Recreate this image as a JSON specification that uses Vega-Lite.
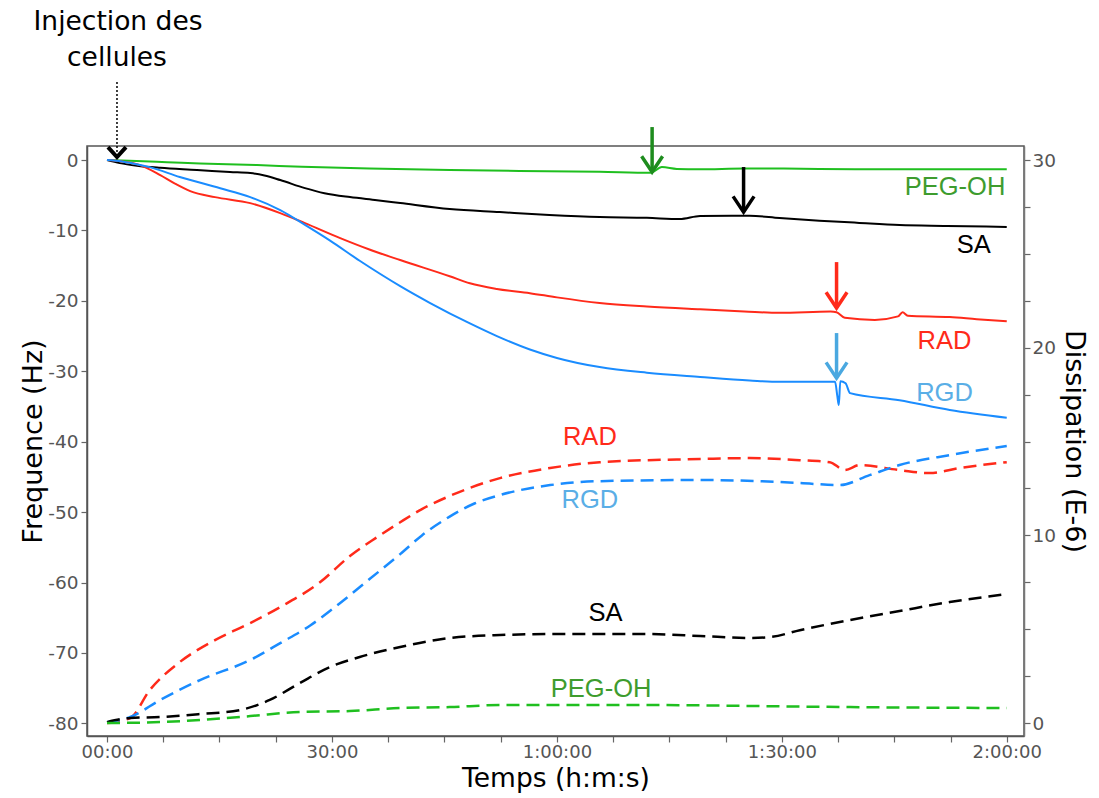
{
  "$schema": "https://vega.github.io/schema/vega-lite/v6.json",
  "width": 937,
  "height": 590,
  "autosize": {"type": "none"},
  "padding": {"left": 87, "top": 146, "right": 75, "bottom": 62},
  "background": "white",
  "config": {
    "view": {"stroke": "#555", "strokeWidth": 1.5},
    "axis": {
      "labelFont": "DejaVu Sans",
      "labelFontSize": 18.5,
      "labelColor": "#555",
      "tickColor": "#666",
      "tickSize": 6,
      "tickWidth": 1.2,
      "grid": false,
      "titleFont": "DejaVu Sans",
      "titleFontSize": 27,
      "titleFontWeight": "normal",
      "titleColor": "#000",
      "domainColor": "#555",
      "domainWidth": 1.5
    }
  },
  "datasets": {
    "freq": [
      {"s": "PEG-OH", "t": 0, "f": 0}, {"s": "PEG-OH", "t": 3, "f": -0.1}, {"s": "PEG-OH", "t": 8, "f": -0.3}, {"s": "PEG-OH", "t": 12.4, "f": -0.47}, {"s": "PEG-OH", "t": 20, "f": -0.7}, {"s": "PEG-OH", "t": 26, "f": -0.95}, {"s": "PEG-OH", "t": 35, "f": -1.2}, {"s": "PEG-OH", "t": 45.7, "f": -1.42}, {"s": "PEG-OH", "t": 55, "f": -1.55}, {"s": "PEG-OH", "t": 65.7, "f": -1.66}, {"s": "PEG-OH", "t": 72.5, "f": -1.8}, {"s": "PEG-OH", "t": 74, "f": -1.0}, {"s": "PEG-OH", "t": 76, "f": -1.25}, {"s": "PEG-OH", "t": 79, "f": -1.3}, {"s": "PEG-OH", "t": 85, "f": -1.2}, {"s": "PEG-OH", "t": 90, "f": -1.2}, {"s": "PEG-OH", "t": 100, "f": -1.3}, {"s": "PEG-OH", "t": 110, "f": -1.3}, {"s": "PEG-OH", "t": 120, "f": -1.3},
      {"s": "SA", "t": 0, "f": 0}, {"s": "SA", "t": 1.7, "f": -0.43}, {"s": "SA", "t": 4, "f": -0.8}, {"s": "SA", "t": 7.1, "f": -1.1}, {"s": "SA", "t": 12, "f": -1.4}, {"s": "SA", "t": 16.4, "f": -1.7}, {"s": "SA", "t": 19.1, "f": -1.85}, {"s": "SA", "t": 21, "f": -2.2}, {"s": "SA", "t": 23.1, "f": -2.84}, {"s": "SA", "t": 26.4, "f": -3.98}, {"s": "SA", "t": 29, "f": -4.7}, {"s": "SA", "t": 32.4, "f": -5.26}, {"s": "SA", "t": 36, "f": -5.7}, {"s": "SA", "t": 39.1, "f": -6.11}, {"s": "SA", "t": 45.7, "f": -6.96}, {"s": "SA", "t": 52.4, "f": -7.39}, {"s": "SA", "t": 59, "f": -7.8}, {"s": "SA", "t": 65.7, "f": -8.1}, {"s": "SA", "t": 72, "f": -8.2}, {"s": "SA", "t": 76.4, "f": -8.38}, {"s": "SA", "t": 79.1, "f": -7.95}, {"s": "SA", "t": 85.7, "f": -7.9}, {"s": "SA", "t": 89.7, "f": -8.24}, {"s": "SA", "t": 95, "f": -8.6}, {"s": "SA", "t": 100, "f": -8.9}, {"s": "SA", "t": 105.7, "f": -9.23}, {"s": "SA", "t": 112, "f": -9.35}, {"s": "SA", "t": 120, "f": -9.5},
      {"s": "RAD", "t": 0, "f": 0}, {"s": "RAD", "t": 2, "f": -0.2}, {"s": "RAD", "t": 4.4, "f": -0.71}, {"s": "RAD", "t": 7.1, "f": -2.13}, {"s": "RAD", "t": 9, "f": -3.3}, {"s": "RAD", "t": 11.1, "f": -4.4}, {"s": "RAD", "t": 14.4, "f": -5.26}, {"s": "RAD", "t": 19.1, "f": -6.11}, {"s": "RAD", "t": 23.1, "f": -7.53}, {"s": "RAD", "t": 26.4, "f": -8.95}, {"s": "RAD", "t": 31.1, "f": -11.08}, {"s": "RAD", "t": 35, "f": -12.7}, {"s": "RAD", "t": 39.1, "f": -14.2}, {"s": "RAD", "t": 45.7, "f": -16.5}, {"s": "RAD", "t": 48.4, "f": -17.5}, {"s": "RAD", "t": 52, "f": -18.3}, {"s": "RAD", "t": 56.4, "f": -18.9}, {"s": "RAD", "t": 60, "f": -19.5}, {"s": "RAD", "t": 65.7, "f": -20.3}, {"s": "RAD", "t": 72, "f": -20.8}, {"s": "RAD", "t": 79.1, "f": -21.2}, {"s": "RAD", "t": 85, "f": -21.5}, {"s": "RAD", "t": 89.7, "f": -21.7}, {"s": "RAD", "t": 96.5, "f": -21.5}, {"s": "RAD", "t": 97.3, "f": -21.6}, {"s": "RAD", "t": 98.4, "f": -22.4}, {"s": "RAD", "t": 102.4, "f": -22.7}, {"s": "RAD", "t": 105.5, "f": -22.2}, {"s": "RAD", "t": 106.1, "f": -21.6}, {"s": "RAD", "t": 106.8, "f": -22.1}, {"s": "RAD", "t": 112.4, "f": -22.3}, {"s": "RAD", "t": 116, "f": -22.6}, {"s": "RAD", "t": 120, "f": -22.9},
      {"s": "RGD", "t": 0, "f": 0}, {"s": "RGD", "t": 2, "f": -0.2}, {"s": "RGD", "t": 4, "f": -0.6}, {"s": "RGD", "t": 5.7, "f": -1.0}, {"s": "RGD", "t": 9.7, "f": -2.4}, {"s": "RGD", "t": 15.1, "f": -4.0}, {"s": "RGD", "t": 19.1, "f": -5.26}, {"s": "RGD", "t": 23.1, "f": -7.1}, {"s": "RGD", "t": 26.4, "f": -9.2}, {"s": "RGD", "t": 29.7, "f": -11.4}, {"s": "RGD", "t": 33.7, "f": -14.3}, {"s": "RGD", "t": 39.1, "f": -17.9}, {"s": "RGD", "t": 43.1, "f": -20.3}, {"s": "RGD", "t": 48.4, "f": -23.2}, {"s": "RGD", "t": 52, "f": -25.0}, {"s": "RGD", "t": 56.4, "f": -26.9}, {"s": "RGD", "t": 60, "f": -28.1}, {"s": "RGD", "t": 65.7, "f": -29.4}, {"s": "RGD", "t": 72, "f": -30.2}, {"s": "RGD", "t": 79.1, "f": -30.8}, {"s": "RGD", "t": 85.7, "f": -31.3}, {"s": "RGD", "t": 89.7, "f": -31.5}, {"s": "RGD", "t": 97.1, "f": -31.5}, {"s": "RGD", "t": 97.4, "f": -33.5}, {"s": "RGD", "t": 97.6, "f": -34.8}, {"s": "RGD", "t": 97.8, "f": -31.4}, {"s": "RGD", "t": 98.5, "f": -31.7}, {"s": "RGD", "t": 99.1, "f": -33.1}, {"s": "RGD", "t": 105.7, "f": -34.1}, {"s": "RGD", "t": 112.4, "f": -35.5}, {"s": "RGD", "t": 120, "f": -36.6}
    ],
    "diss": [
      {"s": "RAD", "t": 0, "d": 0}, {"s": "RAD", "t": 3.1, "d": 0.27}, {"s": "RAD", "t": 5.7, "d": 1.76}, {"s": "RAD", "t": 9.7, "d": 3.25}, {"s": "RAD", "t": 14.4, "d": 4.42}, {"s": "RAD", "t": 19.1, "d": 5.33}, {"s": "RAD", "t": 23.1, "d": 6.18}, {"s": "RAD", "t": 28.4, "d": 7.5}, {"s": "RAD", "t": 32.4, "d": 8.9}, {"s": "RAD", "t": 36, "d": 9.9}, {"s": "RAD", "t": 39.1, "d": 10.7}, {"s": "RAD", "t": 42, "d": 11.4}, {"s": "RAD", "t": 45.7, "d": 12.1}, {"s": "RAD", "t": 52.4, "d": 13.05}, {"s": "RAD", "t": 59.1, "d": 13.59}, {"s": "RAD", "t": 65.7, "d": 13.9}, {"s": "RAD", "t": 79.1, "d": 14.07}, {"s": "RAD", "t": 85.7, "d": 14.12}, {"s": "RAD", "t": 92.4, "d": 14.01}, {"s": "RAD", "t": 96.4, "d": 13.9}, {"s": "RAD", "t": 98.4, "d": 13.48}, {"s": "RAD", "t": 100.4, "d": 13.75}, {"s": "RAD", "t": 105.7, "d": 13.48}, {"s": "RAD", "t": 109.7, "d": 13.32}, {"s": "RAD", "t": 113.7, "d": 13.59}, {"s": "RAD", "t": 120, "d": 13.9},
      {"s": "RGD", "t": 0, "d": 0.05}, {"s": "RGD", "t": 3.1, "d": 0.32}, {"s": "RGD", "t": 7.1, "d": 1.23}, {"s": "RGD", "t": 12.4, "d": 2.29}, {"s": "RGD", "t": 19.1, "d": 3.36}, {"s": "RGD", "t": 23.1, "d": 4.26}, {"s": "RGD", "t": 27.1, "d": 5.2}, {"s": "RGD", "t": 31.1, "d": 6.4}, {"s": "RGD", "t": 35.1, "d": 7.7}, {"s": "RGD", "t": 39.1, "d": 9.0}, {"s": "RGD", "t": 42, "d": 10.0}, {"s": "RGD", "t": 45.7, "d": 11.0}, {"s": "RGD", "t": 49, "d": 11.7}, {"s": "RGD", "t": 52.4, "d": 12.15}, {"s": "RGD", "t": 59.1, "d": 12.68}, {"s": "RGD", "t": 65.7, "d": 12.89}, {"s": "RGD", "t": 79.1, "d": 12.95}, {"s": "RGD", "t": 87.1, "d": 12.89}, {"s": "RGD", "t": 92.4, "d": 12.79}, {"s": "RGD", "t": 97.7, "d": 12.68}, {"s": "RGD", "t": 101.7, "d": 13.21}, {"s": "RGD", "t": 105.7, "d": 13.75}, {"s": "RGD", "t": 112.4, "d": 14.28}, {"s": "RGD", "t": 120, "d": 14.76},
      {"s": "SA", "t": 0, "d": 0.05}, {"s": "SA", "t": 3.1, "d": 0.27}, {"s": "SA", "t": 7.1, "d": 0.32}, {"s": "SA", "t": 12.4, "d": 0.48}, {"s": "SA", "t": 17.7, "d": 0.69}, {"s": "SA", "t": 21.7, "d": 1.23}, {"s": "SA", "t": 25.7, "d": 2.13}, {"s": "SA", "t": 29.7, "d": 2.98}, {"s": "SA", "t": 33.7, "d": 3.52}, {"s": "SA", "t": 39.1, "d": 4.05}, {"s": "SA", "t": 45.7, "d": 4.53}, {"s": "SA", "t": 52.4, "d": 4.69}, {"s": "SA", "t": 59.1, "d": 4.74}, {"s": "SA", "t": 72.4, "d": 4.74}, {"s": "SA", "t": 79.1, "d": 4.64}, {"s": "SA", "t": 85.7, "d": 4.53}, {"s": "SA", "t": 88.4, "d": 4.58}, {"s": "SA", "t": 92.4, "d": 4.95}, {"s": "SA", "t": 99.1, "d": 5.49}, {"s": "SA", "t": 105.7, "d": 5.97}, {"s": "SA", "t": 112.4, "d": 6.45}, {"s": "SA", "t": 120, "d": 6.87},
      {"s": "PEG-OH", "t": 0, "d": 0}, {"s": "PEG-OH", "t": 7.1, "d": 0.05}, {"s": "PEG-OH", "t": 12.4, "d": 0.16}, {"s": "PEG-OH", "t": 19.1, "d": 0.37}, {"s": "PEG-OH", "t": 25.7, "d": 0.59}, {"s": "PEG-OH", "t": 32.4, "d": 0.64}, {"s": "PEG-OH", "t": 39.1, "d": 0.8}, {"s": "PEG-OH", "t": 45.7, "d": 0.85}, {"s": "PEG-OH", "t": 52.4, "d": 0.96}, {"s": "PEG-OH", "t": 72.4, "d": 0.96}, {"s": "PEG-OH", "t": 85.7, "d": 0.91}, {"s": "PEG-OH", "t": 99.1, "d": 0.85}, {"s": "PEG-OH", "t": 120, "d": 0.8}
    ],
    "labels": [
      {"s": "PEG-OH", "t": 113.1, "f": -3.84},
      {"s": "SA", "t": 115.6, "f": -12.07},
      {"s": "RAD", "t": 111.7, "f": -25.7},
      {"s": "RGD", "t": 111.7, "f": -33.1},
      {"s": "RAD", "t": 64.4, "f": -39.35},
      {"s": "RGD", "t": 64.4, "f": -48.3},
      {"s": "SA", "t": 66.5, "f": -64.35},
      {"s": "PEG-OH", "t": 65.9, "f": -75.1}
    ],
    "arrows": [
      {"s": "PEG-OH", "t": 72.7, "f1": 4.69, "f2": -1.7},
      {"s": "SA", "t": 84.9, "f1": -0.99, "f2": -7.39},
      {"s": "RAD", "t": 97.3, "f1": -14.49, "f2": -21.02},
      {"s": "RGD", "t": 97.3, "f1": -24.57, "f2": -30.97}
    ],
    "inj": [
      {"text": "Injection des", "t": 1.47, "f1": 19.6, "f2": 11.08, "tip": 0.43},
      {"text": "cellules", "t": 1.33, "f1": 14.5, "f2": 11.08, "tip": 0.43}
    ]
  },
  "layer": [
    {
      "layer": [
        {
          "data": {"name": "freq"},
          "mark": {"type": "line", "strokeWidth": 2, "interpolate": "monotone"},
          "encoding": {
            "x": {"field": "t", "type": "quantitative", "scale": {"domain": [-2.67, 122.3], "nice": false, "zero": false},
              "axis": {"title": "Temps (h:m:s)", "values": [0, 7.5, 15, 22.5, 30, 37.5, 45, 52.5, 60, 67.5, 75, 82.5, 90, 97.5, 105, 112.5, 120],
                "labelExpr": "datum.value==0?'00:00':datum.value==30?'30:00':datum.value==60?'1:00:00':datum.value==90?'1:30:00':datum.value==120?'2:00:00':''",
                "labelFontSize": 18, "labelPadding": 1, "titlePadding": 4, "titleFontSize": 26.5, "labelFlush": false, "labelOverlap": false}},
            "y": {"field": "f", "type": "quantitative", "scale": {"domain": [-81.8, 2], "nice": false, "zero": false},
              "axis": {"title": "Frequence (Hz)", "orient": "left", "values": [-80, -77.5, -75, -72.5, -70, -67.5, -65, -62.5, -60, -57.5, -55, -52.5, -50, -47.5, -45, -42.5, -40, -37.5, -35, -32.5, -30, -27.5, -25, -22.5, -20, -17.5, -15, -12.5, -10, -7.5, -5, -2.5, 0],
                "labelExpr": "datum.value % 10 == 0 ? '' + datum.value : ''", "labelPadding": 3, "titlePadding": 0, "labelOverlap": false}},
            "color": {"field": "s", "type": "nominal", "legend": null,
              "scale": {"domain": ["PEG-OH", "SA", "RAD", "RGD"], "range": ["#1fbf1f", "#000000", "#ff2a1a", "#1a8cff"]}},
            "detail": {"field": "s"}
          }
        },
        {
          "data": {"name": "arrows"},
          "mark": {"type": "rule", "strokeWidth": 3.5},
          "encoding": {
            "x": {"field": "t", "type": "quantitative", "scale": {"domain": [-2.67, 122.3], "nice": false, "zero": false}, "axis": {"title": "Temps (h:m:s)"}},
            "y": {"field": "f1", "type": "quantitative", "scale": {"domain": [-81.8, 2], "nice": false, "zero": false}, "axis": {"title": "Frequence (Hz)"}},
            "y2": {"field": "f2"},
            "color": {"field": "s", "type": "nominal", "legend": null,
              "scale": {"domain": ["PEG-OH", "SA", "RAD", "RGD"], "range": ["#1e8c1e", "#000000", "#ff2a1a", "#4aa8e0"]}}
          }
        },
        {
          "data": {"name": "arrows"},
          "mark": {"type": "point", "shape": "M-1,-1.5L0,0L1,-1.5", "filled": false, "size": 440, "strokeWidth": 3.5, "opacity": 1, "strokeJoin": "miter"},
          "encoding": {
            "x": {"field": "t", "type": "quantitative", "scale": {"domain": [-2.67, 122.3], "nice": false, "zero": false}, "axis": {"title": "Temps (h:m:s)"}},
            "y": {"field": "f2", "type": "quantitative", "scale": {"domain": [-81.8, 2], "nice": false, "zero": false}, "axis": {"title": "Frequence (Hz)"}},
            "color": {"field": "s", "type": "nominal", "legend": null,
              "scale": {"domain": ["PEG-OH", "SA", "RAD", "RGD"], "range": ["#1e8c1e", "#000000", "#ff2a1a", "#4aa8e0"]}}
          }
        },
        {
          "data": {"name": "labels"},
          "mark": {"type": "text", "font": "Liberation Sans", "fontSize": 25.5, "align": "center", "baseline": "middle"},
          "encoding": {
            "x": {"field": "t", "type": "quantitative", "scale": {"domain": [-2.67, 122.3], "nice": false, "zero": false}, "axis": {"title": "Temps (h:m:s)"}},
            "y": {"field": "f", "type": "quantitative", "scale": {"domain": [-81.8, 2], "nice": false, "zero": false}, "axis": {"title": "Frequence (Hz)"}},
            "text": {"field": "s"},
            "color": {"field": "s", "type": "nominal", "legend": null,
              "scale": {"domain": ["PEG-OH", "SA", "RAD", "RGD"], "range": ["#3e9c2e", "#000000", "#ff2a1a", "#5aaee6"]}}
          }
        },
        {
          "data": {"name": "inj"},
          "transform": [{"filter": "datum.text == 'cellules'"}],
          "mark": {"type": "rule", "strokeWidth": 1.5, "strokeDash": [2, 2], "color": "#000"},
          "encoding": {
            "x": {"field": "t", "type": "quantitative", "scale": {"domain": [-2.67, 122.3], "nice": false, "zero": false}, "axis": {"title": "Temps (h:m:s)"}},
            "y": {"field": "f2", "type": "quantitative", "scale": {"domain": [-81.8, 2], "nice": false, "zero": false}, "axis": {"title": "Frequence (Hz)"}},
            "y2": {"field": "tip"}
          }
        },
        {
          "data": {"name": "inj"},
          "transform": [{"filter": "datum.text == 'cellules'"}],
          "mark": {"type": "point", "shape": "M-1,-1.1L0,0L1,-1.1", "filled": false, "size": 324, "strokeWidth": 4, "opacity": 1, "color": "#000", "strokeJoin": "miter"},
          "encoding": {
            "x": {"field": "t", "type": "quantitative", "scale": {"domain": [-2.67, 122.3], "nice": false, "zero": false}, "axis": {"title": "Temps (h:m:s)"}},
            "y": {"field": "tip", "type": "quantitative", "scale": {"domain": [-81.8, 2], "nice": false, "zero": false}, "axis": {"title": "Frequence (Hz)"}}
          }
        },
        {
          "data": {"name": "inj"},
          "mark": {"type": "text", "font": "DejaVu Sans", "fontSize": 26.5, "align": "center", "baseline": "middle", "color": "#000"},
          "encoding": {
            "x": {"field": "t", "type": "quantitative", "scale": {"domain": [-2.67, 122.3], "nice": false, "zero": false}, "axis": {"title": "Temps (h:m:s)"}},
            "y": {"field": "f1", "type": "quantitative", "scale": {"domain": [-81.8, 2], "nice": false, "zero": false}, "axis": {"title": "Frequence (Hz)"}},
            "text": {"field": "text"}
          }
        }
      ],
      "resolve": {"scale": {"color": "independent"}}
    },
    {
      "data": {"name": "diss"},
      "mark": {"type": "line", "strokeWidth": 2.5, "strokeDash": [13, 7], "interpolate": "monotone"},
      "encoding": {
        "x": {"field": "t", "type": "quantitative", "scale": {"domain": [-2.67, 122.3], "nice": false, "zero": false}, "axis": {"title": "Temps (h:m:s)"}},
        "y": {"field": "d", "type": "quantitative", "scale": {"domain": [-0.69, 30.75], "nice": false, "zero": false},
          "axis": {"title": "Dissipation (E-6)", "orient": "right", "values": [0, 2.5, 5, 7.5, 10, 12.5, 15, 17.5, 20, 22.5, 25, 27.5, 30],
            "labelExpr": "datum.value % 10 == 0 ? '' + datum.value : ''", "labelPadding": 2, "titlePadding": 4, "labelOverlap": false, "domainColor": "#777"}},
        "color": {"field": "s", "type": "nominal", "legend": null,
          "scale": {"domain": ["PEG-OH", "SA", "RAD", "RGD"], "range": ["#1fbf1f", "#000000", "#ff2a1a", "#1a8cff"]}},
        "detail": {"field": "s"}
      }
    }
  ],
  "resolve": {"scale": {"y": "independent", "color": "independent"}}
}
